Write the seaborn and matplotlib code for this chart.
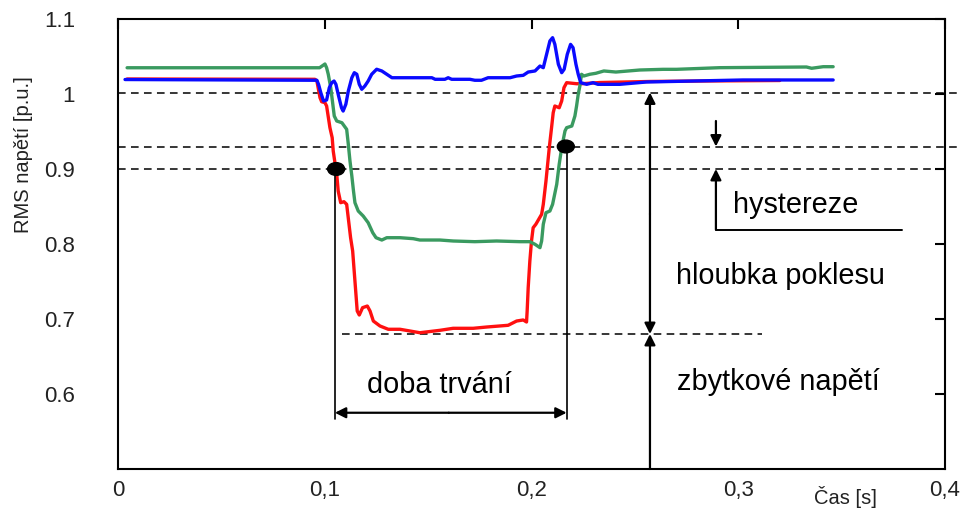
import numpy as np
import pandas as pd
import matplotlib
matplotlib.use("Agg")
import matplotlib.pyplot as plt
from matplotlib.patches import Ellipse
import seaborn as sns

# ---------------- data ----------------
red_t = [0.0044, 0.0953, 0.0962, 0.0977, 0.0985, 0.1001, 0.1009, 0.1025, 0.1036, 0.1041,
         0.1054, 0.1058, 0.1065, 0.1077, 0.1093, 0.1106, 0.1125, 0.1135, 0.1146, 0.1157,
         0.1167, 0.1183, 0.1206, 0.1219, 0.1235, 0.1267, 0.1307, 0.1364, 0.1460, 0.1557,
         0.1621, 0.1718, 0.1783, 0.1887, 0.1928, 0.1960, 0.1976, 0.1979, 0.1984, 0.1992,
         0.2000, 0.2008, 0.2021, 0.2049, 0.2057, 0.2070, 0.2086, 0.2097, 0.2105, 0.2113,
         0.2134, 0.2146, 0.2157, 0.2170, 0.2218, 0.2242, 0.2331, 0.2573, 0.2814, 0.3201]
red_v = [1.020, 1.0196, 1.0173, 0.9951, 0.9897, 0.9884, 0.984, 0.9551, 0.9417, 0.924,
         0.8996, 0.8929, 0.8707, 0.8551, 0.8564, 0.8529, 0.8084, 0.7907, 0.7507, 0.7107,
         0.7053, 0.7151, 0.7173, 0.7107, 0.6973, 0.6907, 0.6863, 0.6863, 0.6817, 0.6849,
         0.6876, 0.6876, 0.6893, 0.6916, 0.6973, 0.6987, 0.696, 0.7107, 0.7417, 0.7773,
         0.804, 0.8217, 0.8263, 0.8396, 0.8529, 0.884, 0.9284, 0.9551, 0.9751, 0.984,
         0.9817, 0.9907, 1.0084, 1.0151, 1.0137, 1.0137, 1.0153, 1.0167, 1.0173, 1.018]

green_t = [0.0044, 0.0975, 0.1001, 0.1009, 0.1017, 0.1029, 0.1039, 0.1046, 0.1058, 0.1083,
           0.1106, 0.1114, 0.1122, 0.1131, 0.1139, 0.1146, 0.1162, 0.1186, 0.1210, 0.1232,
           0.1248, 0.1276, 0.1300, 0.1364, 0.1428, 0.1460, 0.1557, 0.1621, 0.1726, 0.1831,
           0.1944, 0.1992, 0.2017, 0.2041, 0.2049, 0.2057, 0.2070, 0.2089, 0.2102, 0.2122,
           0.2134, 0.2146, 0.2162, 0.2170, 0.2195, 0.2210, 0.2218, 0.2226, 0.2234, 0.2242,
           0.2253, 0.2282, 0.2311, 0.2350, 0.2408, 0.2524, 0.2636, 0.2701, 0.2911, 0.3330,
           0.3355, 0.3411, 0.3459]
green_v = [1.035, 1.035, 1.040, 1.035, 1.0263, 1.0084, 0.9863, 0.9707, 0.964, 0.9617,
           0.9529, 0.9329, 0.9107, 0.8907, 0.8707, 0.8551, 0.844, 0.8373, 0.8284, 0.8151,
           0.8084, 0.8053, 0.8084, 0.8084, 0.8071, 0.8053, 0.8053, 0.804, 0.8031, 0.804,
           0.8031, 0.8031, 0.7996, 0.7951, 0.8040, 0.8263, 0.8417, 0.844, 0.8529, 0.8796,
           0.9063, 0.9284, 0.9507, 0.9551, 0.9573, 0.9707, 0.984, 0.9996, 1.0107, 1.0263,
           1.024, 1.0263, 1.0276, 1.0307, 1.0293, 1.032, 1.0329, 1.0329, 1.0351, 1.036,
           1.0343, 1.0364, 1.0364]

blue_t = [0.0034, 0.0962, 0.0970, 0.0981, 0.0994, 0.1009, 0.1022, 0.1034, 0.1045, 0.1054,
          0.1065, 0.1081, 0.1089, 0.1102, 0.1114, 0.1131, 0.1143, 0.1155, 0.1167, 0.1179,
          0.1194, 0.1210, 0.1227, 0.1251, 0.1276, 0.1300, 0.1325, 0.1518, 0.1534, 0.1581,
          0.1597, 0.1614, 0.1702, 0.1726, 0.1758, 0.1790, 0.1896, 0.1928, 0.1960, 0.1984,
          0.2017, 0.2041, 0.2057, 0.2073, 0.2089, 0.2102, 0.2113, 0.2130, 0.2146, 0.2158,
          0.2173, 0.2189, 0.2201, 0.2215, 0.2226, 0.2238, 0.2267, 0.2298, 0.2321, 0.2427,
          0.2556, 0.2781, 0.3023, 0.3459]
blue_v = [1.0193, 1.0183, 1.0129, 1.0017, 0.9907, 0.9920, 1.0084, 1.0151, 1.0173, 1.0129,
          0.9996, 0.9817, 0.9773, 0.9863, 1.004, 1.0217, 1.0284, 1.0263, 1.0129, 1.0063,
          1.0107, 1.0173, 1.0263, 1.033, 1.0307, 1.0263, 1.0217, 1.0217, 1.0196, 1.0196,
          1.0217, 1.0196, 1.0196, 1.0183, 1.0183, 1.0217, 1.0217, 1.024, 1.0249, 1.0293,
          1.0307, 1.0373, 1.0351, 1.0529, 1.0707, 1.0751, 1.0662, 1.0396, 1.0284, 1.033,
          1.0529, 1.0662, 1.0617, 1.0396, 1.0263, 1.0151, 1.0129, 1.0151, 1.0129, 1.0129,
          1.016, 1.0173, 1.0187, 1.0187]

# reference levels and annotation values
level_nominal = 1.002
level_end = 0.93
level_start = 0.90
level_residual = 0.68
t_start = 0.1049
t_end = 0.2170
marker_t = [0.1055, 0.2166]
marker_v = [0.90, 0.93]

x_ticks = [0.0, 0.1, 0.2, 0.3, 0.4]
x_ticklabels = ["0", "0,1", "0,2", "0,3", "0,4"]
y_ticks = [0.6, 0.7, 0.8, 0.9, 1.0, 1.1]
y_ticklabels = ["0.6", "0.7", "0.8", "0.9", "1", "1.1"]

# ---------------- figure ----------------
sns.set_theme(style="white")
plt.rcParams["font.family"] = ["Liberation Sans", "DejaVu Sans"]

fig = plt.figure(figsize=(9.61, 5.08), dpi=100)
ax = fig.add_axes([118 / 961, 1 - 469 / 508, (945 - 118) / 961, (469 - 19) / 508])

df = pd.concat([
    pd.DataFrame({"t": red_t, "v": red_v, "s": "red"}),
    pd.DataFrame({"t": green_t, "v": green_v, "s": "green"}),
    pd.DataFrame({"t": blue_t, "v": blue_v, "s": "blue"}),
])
palette = {"red": "#ff1010", "green": "#3a9a60", "blue": "#0a0aff"}
for name in ["red", "green", "blue"]:
    sub = df[df["s"] == name]
    sns.lineplot(data=sub, x="t", y="v", color=palette[name], lw=2.4,
                 estimator=None, sort=False, ax=ax, legend=False, zorder=3)

ax.set_xlim(0, 0.4)
ax.set_ylim(0.5, 1.1)

dash = dict(color="black", lw=1.1, ls=(0, (5, 3.5)), zorder=2)
x_far = 0.4077
ax.plot([0, x_far], [level_nominal, level_nominal], clip_on=False, **dash)
ax.plot([0, x_far], [level_end, level_end], clip_on=False, **dash)
ax.plot([0, 0.4], [level_start, level_start], **dash)
ax.plot([0.1083, 0.3114], [level_residual, level_residual], **dash)

# markers
for mt, mv in zip(marker_t, marker_v):
    ax.add_patch(Ellipse((mt, mv), width=0.0082, height=0.017, color="black", zorder=5))

# duration vertical lines
ax.plot([t_start, t_start], [level_start, 0.5667], color="black", lw=1.2, zorder=4)
ax.plot([t_end, t_end], [level_end, 0.5667], color="black", lw=1.2, zorder=4)

arrow = dict(arrowstyle="-|>", color="black", lw=1.6, mutation_scale=16,
             shrinkA=0, shrinkB=0)
# duration double arrow
ax.annotate("", xy=(t_start, 0.575), xytext=(0.16, 0.575), arrowprops=arrow)
ax.annotate("", xy=(t_end, 0.575), xytext=(0.16, 0.575), arrowprops=arrow)

# depth double arrow
xd = 0.2573
ax.annotate("", xy=(xd, level_nominal), xytext=(xd, 0.84), arrowprops=arrow)
ax.annotate("", xy=(xd, level_residual), xytext=(xd, 0.84), arrowprops=arrow)
# residual voltage arrow
ax.annotate("", xy=(xd, level_residual), xytext=(xd, 0.5), arrowprops=arrow,
            annotation_clip=False)

# hysteresis
xh = 0.2892
ax.annotate("", xy=(xh, level_end), xytext=(xh, 0.964), arrowprops=arrow)
ax.annotate("", xy=(xh, level_start), xytext=(xh, 0.819), arrowprops=arrow)
ax.plot([xh, 0.379], [0.819, 0.819], color="black", lw=1.4)

# texts
tfs = 20.8
ax.text(0.2974, 0.842, "hystereze", fontsize=tfs, va="baseline", ha="left", color="black")
ax.text(0.2698, 0.747, "hloubka poklesu", fontsize=tfs, va="baseline", ha="left", color="black")
ax.text(0.2703, 0.6053, "zbytkové napětí", fontsize=tfs, va="baseline", ha="left", color="black")
ax.text(0.1204, 0.6017, "doba trvání", fontsize=tfs, va="baseline", ha="left", color="black")

# axes styling
for sp in ax.spines.values():
    sp.set_visible(True)
    sp.set_color("black")
    sp.set_linewidth(1.5)
ax.set_xticks(x_ticks)
ax.set_xticklabels(x_ticklabels)
ax.set_yticks(y_ticks)
ax.set_yticklabels(y_ticklabels)
ax.tick_params(axis="both", direction="in", length=7, width=1.5, colors="black",
               top=True, right=True, labelsize=16, labelcolor="#222222")
ax.tick_params(axis="x", pad=8)
ax.tick_params(axis="y", pad=31)
ax.set_xlabel("")
ax.set_ylabel("")

fig.text(24 / 961, 1 - 155 / 508, "RMS napětí [p.u.]", rotation=90, fontsize=14.5,
         ha="center", va="center", color="#222222")
fig.text(845 / 961, 1 - 497 / 508, "Čas [s]", fontsize=14.5, ha="center", va="center",
         color="#222222")

fig.savefig("out.png", dpi=100)
